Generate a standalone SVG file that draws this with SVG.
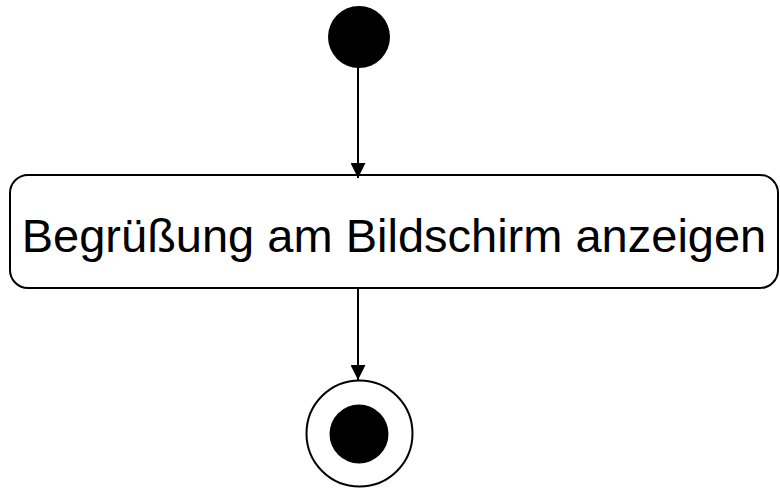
<svg xmlns="http://www.w3.org/2000/svg" width="780" height="488" viewBox="0 0 780 488">
<style>
.line{stroke:#000;stroke-width:2;fill:none}
.label{font-family:"Liberation Sans",Arial,sans-serif;font-size:47px;fill:#000}
</style>
<defs>
<marker id="arr" markerWidth="16" markerHeight="15" refX="16" refY="8" orient="auto" markerUnits="userSpaceOnUse" viewBox="0 0 16 16">
<path d="M0,0 L16,8 L0,16 Z" fill="#000"/>
</marker>
</defs>
<rect width="780" height="488" fill="#fff"/>
<g id="connectors">
<line class="line" x1="358" y1="66" x2="358" y2="178" marker-end="url(#arr)"/>
<line class="line" x1="358" y1="288" x2="358" y2="380" marker-end="url(#arr)"/>
</g>
<g id="start">
<circle cx="359" cy="37" r="31" fill="#000"/>
</g>
<g id="action">
<rect class="line" x="10" y="175" width="768" height="113" rx="18" ry="18" fill="#fff"/>
<text class="label" x="394" y="252" text-anchor="middle">Begrüßung am Bildschirm anzeigen</text>
</g>
<g id="end">
<circle class="line" cx="359.5" cy="433.5" r="53"/>
<circle cx="359" cy="434" r="29.5" fill="#000"/>
</g>
</svg>
